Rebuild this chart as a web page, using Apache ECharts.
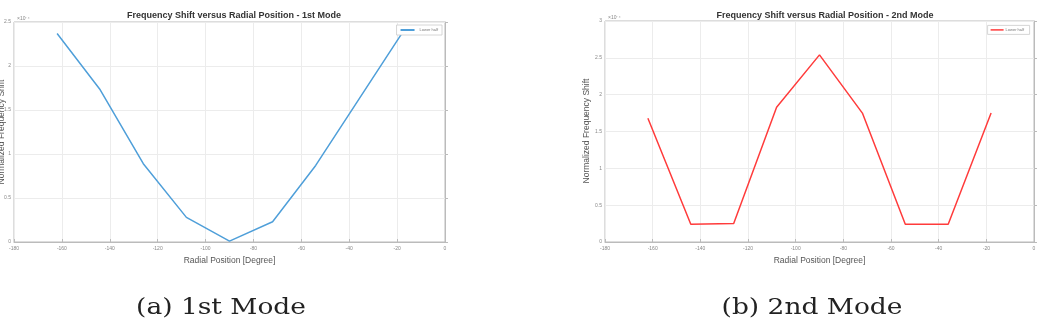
<!DOCTYPE html>
<html>
<head>
<meta charset="utf-8">
<script src="https://cdn.jsdelivr.net/npm/echarts@6/dist/echarts.min.js"></script>
<style>
html,body{margin:0;padding:0;background:#fff;}
#c{width:1042px;height:336px;}
</style>
</head>
<body>
<div id="c"></div>
<script>
// Data (values in units of 1e-4)
const radialPositions = [-162, -144, -126, -108, -90, -72, -54, -36, -18];
const mode1Shift = [2.37, 1.73, 0.89, 0.28, 0.01, 0.23, 0.87, 1.62, 2.37];
const mode2Shift = [1.68, 0.24, 0.25, 1.83, 2.54, 1.75, 0.24, 0.24, 1.75];
const xTicks = [-180, -160, -140, -120, -100, -80, -60, -40, -20, 0];
const titles = ['Frequency Shift versus Radial Position - 1st Mode', 'Frequency Shift versus Radial Position - 2nd Mode'];
const captions = ['(a) 1st Mode', '(b) 2nd Mode'];
const seriesName = 'Lower half';
const yName = 'Normalized Frequency Shift';
const yMax = [2.5, 3];

const chart = echarts.init(document.getElementById('c'), null, {renderer: 'canvas'});

const grids = [
  {left: 14, right: 597, top: 22, bottom: 94},
  {left: 605, right: 8, top: 21, bottom: 94}
];

function xAxis(i) {
  return {
    type: 'value', gridIndex: i, min: -180, max: 0, interval: 20,
    name: 'Radial Position [Degree]', nameLocation: 'middle', nameGap: 14,
    nameTextStyle: {fontSize: 8.5, color: '#555', fontFamily: 'Liberation Sans'},
    axisLine: {show: true, onZero: false, lineStyle: {color: '#bbb', width: 1}},
    axisTick: {show: true, inside: true, length: 3, lineStyle: {color: '#bbb'}},
    axisLabel: {fontSize: 5, color: '#888', margin: 4, fontFamily: 'Liberation Sans'},
    splitLine: {show: true, lineStyle: {color: '#ececec', width: 1}}
  };
}
function yAxis(i) {
  return {
    type: 'value', gridIndex: i, min: 0, max: yMax[i], interval: 0.5,
    axisLine: {show: true, lineStyle: {color: '#bbb', width: 1}},
    axisTick: {show: true, inside: true, length: 3, lineStyle: {color: '#bbb'}},
    axisLabel: {fontSize: 5, color: '#888', margin: 3, fontFamily: 'Liberation Sans'},
    splitLine: {show: true, lineStyle: {color: '#ececec', width: 1}}
  };
}

const option = {
  backgroundColor: '#fff',
  animation: false,
  title: titles.map((t, i) => ({
    text: t,
    left: i === 0 ? 229 : 820, top: 6, textAlign: 'center',
    textStyle: {fontSize: 9, fontWeight: 'bold', color: '#333', fontFamily: 'Liberation Sans'}
  })),
  legend: [
    {data: [seriesName], right: 600, top: 25, orient: 'vertical',
     itemWidth: 14, itemHeight: 2, itemGap: 2, padding: [3, 4],
     borderColor: '#ccc', borderWidth: 0.8, backgroundColor: '#fff',
     textStyle: {fontSize: 4, color: '#777'}, icon: 'rect'},
  ],
  grid: grids.map(g => Object.assign({show: true, borderColor: '#bbb', borderWidth: 1, backgroundColor: '#fff', containLabel: false, outerBoundsMode: 'none'}, g)),
  xAxis: [xAxis(0), xAxis(1)],
  yAxis: [yAxis(0), yAxis(1)],
  series: [
    {name: seriesName, type: 'line', xAxisIndex: 0, yAxisIndex: 0,
     data: radialPositions.map((x, k) => [x, mode1Shift[k]]),
     showSymbol: false, lineStyle: {color: '#4f9fd9', width: 1.5}, itemStyle: {color: '#4f9fd9'}},
    {name: seriesName + ' ', type: 'line', xAxisIndex: 1, yAxisIndex: 1,
     data: radialPositions.map((x, k) => [x, mode2Shift[k]]),
     showSymbol: false, lineStyle: {color: '#ff3b3b', width: 1.5}, itemStyle: {color: '#ff3b3b'}}
  ],
  graphic: [
    {type: 'text', x: 2, y: 132, rotation: Math.PI / 2, style: {text: yName, font: '8.5px "Liberation Sans"', fill: '#555', textAlign: 'center', textVerticalAlign: 'middle'}},
    {type: 'text', x: 587, y: 131, rotation: Math.PI / 2, style: {text: yName, font: '8.5px "Liberation Sans"', fill: '#555', textAlign: 'center', textVerticalAlign: 'middle'}},
    {type: 'text', left: 17, top: 16, style: {text: '×10⁻⁴', fontSize: 5, fill: '#888'}},
    {type: 'text', left: 608, top: 15, style: {text: '×10⁻⁴', fontSize: 5, fill: '#888'}},
    {type: 'group', right: 12, top: 25, children: [
      {type: 'rect', shape: {x: 0, y: 0, width: 42, height: 9}, style: {fill: '#fff', stroke: '#ccc', lineWidth: 0.8}},
      {type: 'line', shape: {x1: 3, y1: 4.5, x2: 16, y2: 4.5}, style: {stroke: '#ff3b3b', lineWidth: 1.5}},
      {type: 'text', x: 18, y: 2.5, style: {text: seriesName, fontSize: 4, fill: '#777'}}
    ]},
    {type: 'text', x: 221, y: 308, scaleX: 1.15, style: {text: captions[0], font: '23px "DejaVu Serif"', fill: '#222', textAlign: 'center', textVerticalAlign: 'middle'}},
    {type: 'text', x: 812, y: 308, scaleX: 1.15, style: {text: captions[1], font: '23px "DejaVu Serif"', fill: '#222', textAlign: 'center', textVerticalAlign: 'middle'}}
  ]
};
chart.setOption(option);
</script>
</body>
</html>
